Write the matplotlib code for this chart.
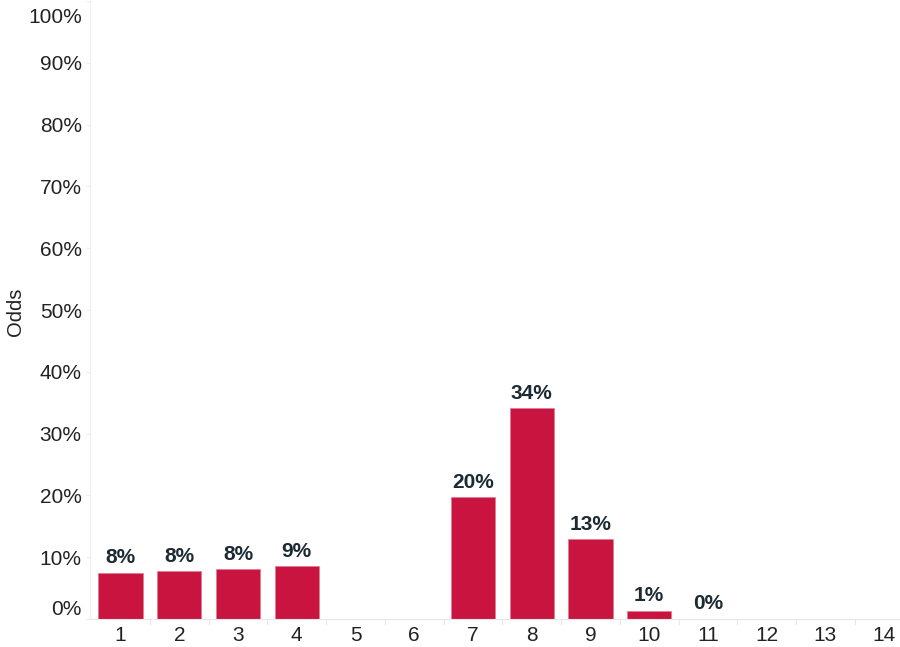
import matplotlib
matplotlib.use("Agg")
import matplotlib.pyplot as plt
from matplotlib.transforms import offset_copy

categories = [1, 2, 3, 4, 5, 6, 7, 8, 9, 10, 11, 12, 13, 14]
odds = [7.5, 7.75, 8.05, 8.55, None, None, 19.75, 34.1, 12.9, 1.35, 0.05, None, None, None]
labels = ["8%", "8%", "8%", "9%", "", "", "20%", "34%", "13%", "1%", "0%", "", "", ""]
yticks = [0, 10, 20, 30, 40, 50, 60, 70, 80, 90, 100]
ytick_labels = [f"{v}%" for v in yticks]

plt.rcParams['font.family'] = ['Liberation Sans', 'DejaVu Sans']

fig = plt.figure(figsize=(9, 6.47), dpi=100)
ax = fig.add_axes([90/900, 28/647, 810/900, 618/647])

bar_color = "#C8143F"
xs = [c for c, v in zip(categories, odds) if v is not None]
vs = [v for v in odds if v is not None]
ax.bar(xs, vs, width=0.755, color=bar_color, edgecolor="#E07A92", linewidth=0.5, zorder=2)

for c, v, lab in zip(categories, odds, labels):
    if v is not None and lab:
        ax.text(c, v + 0.85, lab, ha="center", va="bottom", fontsize=15,
                fontweight="bold", color="#1B2A33")

ax.set_xlim(0.48, 14.27)
ax.set_ylim(0, 100)
ax.set_xticks(categories)
ax.set_xticklabels([str(c) for c in categories], fontsize=15, color="#222222")
ax.set_yticks(yticks)
ax.set_yticklabels(ytick_labels[:-1] + [""], fontsize=15, color="#222222")
tl = ax.get_yticklabels()
tl[0].set_va("bottom")
# top label sits a little inside the plot edge
ax.text(0, yticks[-1], ytick_labels[-1], ha="right", va="top", fontsize=15, color="#222222",
        transform=offset_copy(ax.get_yaxis_transform(), fig=fig, x=-8.3, y=-7, units="dots"))

ax.tick_params(axis="x", length=0, pad=5)
ax.tick_params(axis="y", length=3, color="#EEEEEE", pad=3)
# category separators on the x axis
for b in [c + 0.5 for c in categories[:-1]]:
    ax.plot([b, b], [0, -0.8], color="#E8E8E8", lw=0.8, clip_on=False)

for s in ["top", "right"]:
    ax.spines[s].set_visible(False)
ax.spines["left"].set_color("#EEEEEE")
ax.spines["bottom"].set_color("#E8E8E8")
fig.text(15/900, 1 - 312/647, "Odds", rotation=90, ha="center", va="center",
         fontsize=14.5, color="#222222")

fig.savefig("out.png", dpi=100)
